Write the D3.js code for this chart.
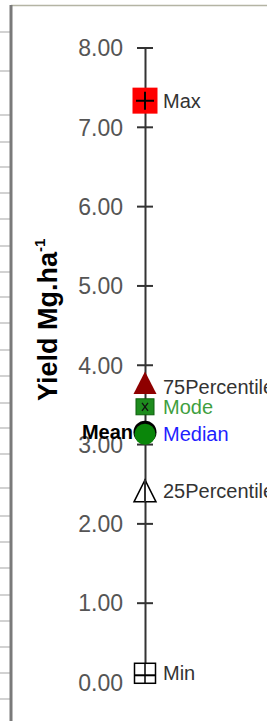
<!DOCTYPE html>
<meta charset="utf-8">

<script src="https://d3js.org/d3.v7.min.js"></script>

<style type="text/css">
    body { margin: 0; background: #fff; }
    svg { display: block; font-family: "Liberation Sans", Arial, sans-serif; }
    .axis path, .axis line { stroke: #333; stroke-width: 2; }
    .axis text { fill: #555; font-size: 23px; }
</style>

<body>
</body>

<script>

// Data: summary statistics of yield (Mg/ha)
var statNames = ["Max", "75Percentile", "Mode", "Mean", "Median", "25Percentile", "Min"];
var statValues = [7.33, 3.77, 3.47, 3.15, 3.13, 2.41, 0.11];
var tickValues = [0, 1, 2, 3, 4, 5, 6, 7, 8];

// spreadsheet row borders seen at the left edge
var rowLines = [32, 71, 115, 142, 167, 193, 219, 246, 272, 297, 323, 350, 376, 403, 428, 454, 488, 516, 542, 568, 595, 621, 647, 673, 699];

var width = 267, height = 721;
var axisX = 145;

var svg = d3.select("body").append("svg")
    .attr("width", width)
    .attr("height", height);

// frame decoration
svg.selectAll(".row")
    .data(rowLines)
    .enter().append("line")
    .attr("x1", 0).attr("x2", 10)
    .attr("y1", function(d) { return d; })
    .attr("y2", function(d) { return d; })
    .style("stroke", "#d2d2d2")
    .style("stroke-width", 2);

svg.append("line")
    .attr("x1", 11).attr("x2", width).attr("y1", 5.5).attr("y2", 5.5)
    .style("stroke", "#b4b4a4").style("stroke-width", 1.5);

svg.append("line")
    .attr("x1", 11).attr("x2", 11).attr("y1", 5).attr("y2", height)
    .style("stroke", "#7a7a7a").style("stroke-width", 3);

// scale + axis
var yScale = d3.scaleLinear()
    .domain([0, 8])
    .range([682, 47.5]);

var yAxis = d3.axisLeft(yScale)
    .tickValues(tickValues)
    .tickFormat(d3.format(".2f"))
    .tickSizeInner(8)
    .tickSizeOuter(0)
    .tickPadding(14);

var yAxisGroup = svg.append("g")
    .attr("class", "axis")
    .attr("transform", "translate(" + axisX + ",0)")
    .call(yAxis);

// ticks cross the axis line
yAxisGroup.selectAll(".tick line").attr("x1", 8);
yAxisGroup.selectAll(".tick text").attr("dy", "0.36em");

// axis title
var title = svg.append("text")
    .attr("transform", "translate(57,401) rotate(-90)")
    .style("font-size", "27px")
    .style("font-weight", "bold")
    .style("fill", "#000");
title.append("tspan").text("Yield Mg.ha");
title.append("tspan").attr("dy", -12).style("font-size", "15px").text("-1");

// markers
var stats = statNames.map(function(n, i) { return {name: n, value: statValues[i]}; });
var byName = {};
stats.forEach(function(d) { byName[d.name] = d; });

function y(name) { return yScale(byName[name].value); }

var marks = svg.append("g").attr("transform", "translate(" + axisX + ",0)");

// 25 percentile: open triangle
marks.append("path")
    .attr("d", "M0,-11L11,11L-11,11Z")
    .attr("transform", "translate(0," + y("25Percentile") + ")")
    .style("fill", "#fff").style("stroke", "#000").style("stroke-width", 1.5);
marks.append("line")
    .attr("x1", 0).attr("x2", 0)
    .attr("y1", y("25Percentile") - 11).attr("y2", y("25Percentile") + 11)
    .style("stroke", "#333").style("stroke-width", 2);

// min: open square with bar
var minY = y("Min");
marks.append("rect")
    .attr("x", -10.5).attr("y", minY - 10).attr("width", 21).attr("height", 20)
    .style("fill", "#fff").style("stroke", "#000").style("stroke-width", 1.5);
marks.append("line")
    .attr("x1", -10.5).attr("x2", 10.5).attr("y1", minY + 2).attr("y2", minY + 2)
    .style("stroke", "#000").style("stroke-width", 2);
marks.append("line")
    .attr("x1", 0).attr("x2", 0).attr("y1", minY - 10).attr("y2", minY + 10)
    .style("stroke", "#000").style("stroke-width", 1.5);

// max: red square with cross
var maxY = y("Max");
marks.append("rect")
    .attr("x", -12.5).attr("y", maxY - 13).attr("width", 25).attr("height", 26)
    .style("fill", "#f00");
marks.append("path")
    .attr("d", "M-9," + maxY + "H9M0," + (maxY - 9) + "V" + (maxY + 9))
    .style("stroke", "#000").style("stroke-width", 2);

// 75 percentile: dark red triangle
marks.append("path")
    .attr("d", "M0,-11.5L11.5,11L-11.5,11Z")
    .attr("transform", "translate(0," + y("75Percentile") + ")")
    .style("fill", "#8e0000");

// mode: green square with x
var modeY = y("Mode");
marks.append("rect")
    .attr("x", -9).attr("y", modeY - 8).attr("width", 18).attr("height", 16)
    .style("fill", "#1e8c1e").style("stroke", "#0d5f0d").style("stroke-width", 1);
marks.append("path")
    .attr("d", "M-3," + (modeY - 4) + "L3," + (modeY + 4) + "M3," + (modeY - 4) + "L-3," + (modeY + 4))
    .style("stroke", "#111").style("stroke-width", 1.3);

// mean: black circle, median: green circle
marks.append("circle")
    .attr("cy", y("Mean")).attr("r", 11.5)
    .style("fill", "#000");
marks.append("circle")
    .attr("cy", y("Median") + 0.5).attr("r", 10.5)
    .style("fill", "#0a860a");

// labels
var labelColor = {
    "Max": "#333", "75Percentile": "#333", "Mode": "#3f9f3f",
    "Median": "#1f1fff", "25Percentile": "#333", "Min": "#333"
};
var labelShift = {"75Percentile": 4};

svg.selectAll(".lbl")
    .data(stats.filter(function(d) { return d.name != "Mean"; }))
    .enter().append("text")
    .attr("class", "lbl")
    .attr("x", axisX + 18)
    .attr("y", function(d) { return yScale(d.value) + (labelShift[d.name] || 0); })
    .attr("dy", "0.36em")
    .style("font-size", "20px")
    .style("fill", function(d) { return labelColor[d.name]; })
    .text(function(d) { return d.name; });

svg.append("text")
    .attr("x", axisX - 12)
    .attr("y", y("Mean"))
    .attr("dy", "0.36em")
    .attr("text-anchor", "end")
    .style("font-size", "20px")
    .style("font-weight", "bold")
    .style("fill", "#000")
    .text("Mean");

</script>
